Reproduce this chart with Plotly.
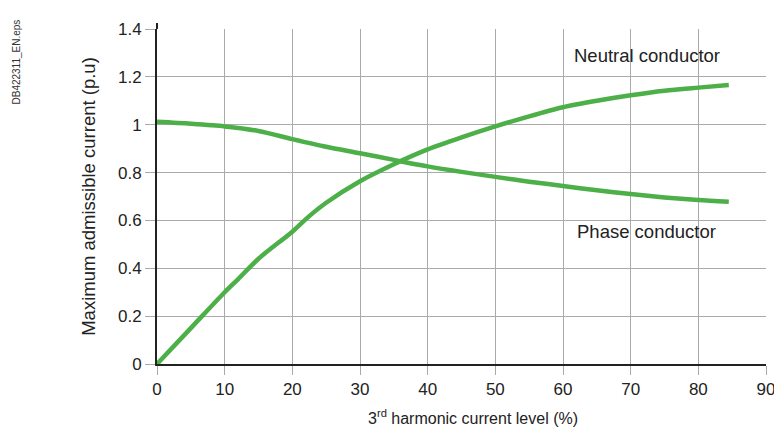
import plotly.graph_objects as go

# 3rd harmonic current level (%)
phase_x = [0, 5, 10, 15, 20, 25, 30, 35, 40, 45, 50, 55, 60, 65, 70, 75, 80, 84.5]
phase_y = [1.012, 1.004, 0.993, 0.974, 0.94, 0.908, 0.881, 0.853, 0.826, 0.803,
           0.782, 0.762, 0.744, 0.726, 0.71, 0.696, 0.685, 0.678]

neutral_x = [0, 5, 10, 12, 15, 20, 22.5, 25, 30, 35, 40, 45, 50, 55, 60, 65, 70, 75, 80, 84.5]
neutral_y = [0, 0.15, 0.3, 0.355, 0.44, 0.553, 0.618, 0.674, 0.764, 0.835, 0.897, 0.947,
             0.993, 1.035, 1.073, 1.1, 1.123, 1.142, 1.155, 1.166]

green = "rgb(76,175,72)"
font = "Liberation Sans, Arial, sans-serif"

fig = go.Figure()
fig.add_trace(go.Scatter(x=phase_x, y=phase_y, mode="lines",
                         line=dict(color=green, width=4.5, shape="spline", smoothing=0.8),
                         name="Phase conductor"))
fig.add_trace(go.Scatter(x=neutral_x, y=neutral_y, mode="lines",
                         line=dict(color=green, width=4.5, shape="spline", smoothing=0.8),
                         name="Neutral conductor"))

fig.add_annotation(x=72.4, y=1.289, text="Neutral conductor", showarrow=False,
                   font=dict(size=18.5, color="#222"))
fig.add_annotation(x=72.4, y=0.552, text="Phase conductor", showarrow=False,
                   font=dict(size=18.5, color="#222"))
fig.add_annotation(xref="paper", yref="paper", x=-0.2315, y=0.9, xanchor="center",
                   yanchor="middle", text="DB422311_EN.eps",
                   textangle=-90, showarrow=False, font=dict(size=10, color="#333"))
# x title sits a bit right of centre in the original
fig.add_annotation(xref="paper", yref="paper", x=0.519, y=-0.159, xanchor="center",
                   yanchor="middle", text="3<sup>rd</sup> harmonic current level (%)",
                   showarrow=False, font=dict(size=16, color="#222"))

# axis line sticks out a little above the top gridline
fig.add_shape(type="line", xref="paper", yref="paper", x0=0, x1=0, y0=1, y1=1.018,
              line=dict(color="#222", width=2))

fig.update_layout(
    width=782, height=428,
    margin=dict(l=149, r=24, t=16, b=72),
    paper_bgcolor="white", plot_bgcolor="white",
    showlegend=False,
    font=dict(family=font, size=17, color="#222"),
    xaxis=dict(
        range=[0, 90], dtick=10, showgrid=True, gridcolor="#aaaaaa", gridwidth=1,
        showline=True, linecolor="#222", linewidth=2, zeroline=False,
        ticks="outside", ticklen=9, tickcolor="#aaaaaa",
    ),
    yaxis=dict(
        range=[0, 1.4], dtick=0.2, showgrid=True, gridcolor="#aaaaaa", gridwidth=1,
        showline=True, linecolor="#222", linewidth=2, zeroline=False,
        ticks="outside", ticklen=10, tickcolor="#aaaaaa",
        title=dict(text="Maximum admissible current (p.u)", font=dict(size=18.5), standoff=17),
    ),
)

fig.write_html("out.html")
